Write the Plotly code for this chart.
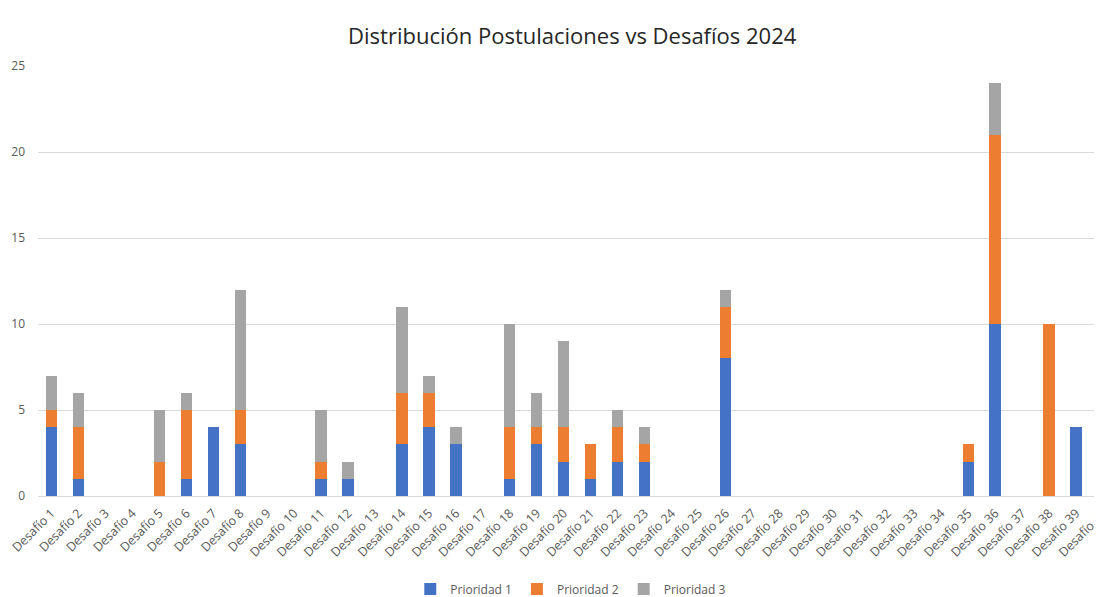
import plotly.graph_objects as go

categories = [f"Desafío {i}" for i in range(1, 41)]

prioridad_1 = [4, 1, 0, 0, 0, 1, 4, 3, 0, 0,
               1, 1, 0, 3, 4, 3, 0, 1, 3, 2,
               1, 2, 2, 0, 0, 8, 0, 0, 0, 0,
               0, 0, 0, 0, 2, 10, 0, 0, 4, 0]
prioridad_2 = [1, 3, 0, 0, 2, 4, 0, 2, 0, 0,
               1, 0, 0, 3, 2, 0, 0, 3, 1, 2,
               2, 2, 1, 0, 0, 3, 0, 0, 0, 0,
               0, 0, 0, 0, 1, 11, 0, 10, 0, 0]
prioridad_3 = [2, 2, 0, 0, 3, 1, 0, 7, 0, 0,
               3, 1, 0, 5, 1, 1, 0, 6, 2, 5,
               0, 1, 1, 0, 0, 1, 0, 0, 0, 0,
               0, 0, 0, 0, 0, 3, 0, 0, 0, 0]

series = [("Prioridad 1", prioridad_1, "#4472C4"),
          ("Prioridad 2", prioridad_2, "#ED7D31"),
          ("Prioridad 3", prioridad_3, "#A5A5A5")]

FONT = "Open Sans"

fig = go.Figure()
for name, vals, color in series:
    fig.add_trace(go.Bar(x=categories, y=vals, name=name,
                         marker=dict(color=color, line=dict(width=0))))

fig.update_layout(
    barmode="stack",
    bargap=0.58,
    width=1102, height=597, autosize=False,
    paper_bgcolor="white", plot_bgcolor="white",
    margin=dict(l=30, r=0, t=58, b=109),
    font=dict(family=FONT, color="#595959"),
    title=dict(text="Distribución Postulaciones vs Desafíos 2024",
               x=0.512, xanchor="center", y=0.953, yanchor="middle",
               font=dict(size=22, color="#262626", family=FONT)),
    legend=dict(orientation="h", x=0.497, xanchor="center", y=-0.216, yanchor="middle",
                font=dict(size=12, color="#595959"), traceorder="normal",
                itemwidth=30, tracegroupgap=0),
    showlegend=True,
)
fig.update_xaxes(range=[-0.5, 39.26], tickangle=-45, tickfont=dict(size=12.5, color="#595959"),
                 showgrid=False, showline=True, linecolor="#D9D9D9", linewidth=1,
                 ticks="", automargin=False, dtick=1, ticklabelstandoff=4)
fig.update_yaxes(range=[0, 25], dtick=5, tickfont=dict(size=12, color="#595959"),
                 showgrid=True, gridcolor="#D9D9D9", gridwidth=1, zeroline=False,
                 ticks="", showline=False, ticklabelstandoff=12, automargin=False)

fig.write_html("out.html")
